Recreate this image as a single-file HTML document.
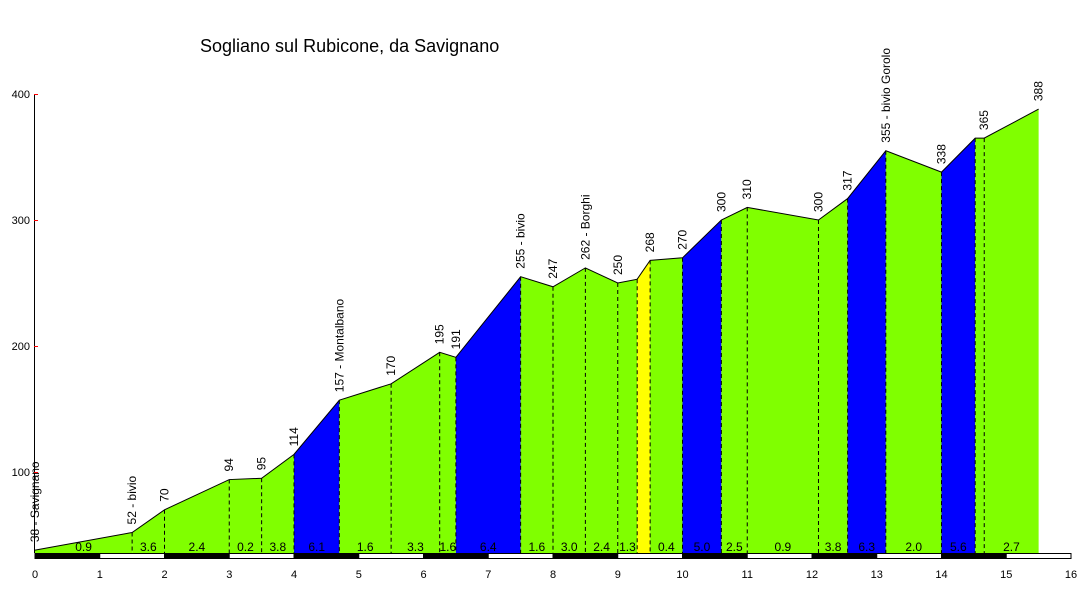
<!DOCTYPE html>
<html><head><meta charset="utf-8"><style>
html,body{margin:0;padding:0;background:#fff;}
svg{display:block;font-family:"Liberation Sans",Arial,sans-serif;}
</style></head><body>
<svg id="chart" width="1088" height="590" viewBox="0 0 1088 590" xmlns="http://www.w3.org/2000/svg">
<text x="200" y="52" font-size="18" fill="#000">Sogliano sul Rubicone, da Savignano</text>
<g id="plot"></g>
</svg>
<script>
const kms = [0,1.5,2.0,3.0,3.5,4.0,4.7,5.5,6.25,6.5,7.5,8.0,8.5,9.0,9.3,9.5,10.0,10.6,11.0,12.1,12.55,13.14,14.0,14.52,14.66,15.5];
const alts = [38,52,70,94,95,114,157,170,195,191,255,247,262,250,253,268,270,300,310,300,317,355,338,365,365,388];
const pointLabels = ["38 - Savignano","52 - bivio","70","94","95","114","157 - Montalbano","170","195","191","255 - bivio","247","262 - Borghi","250","","268","270","300","310","300","317","355 - bivio Gorolo","338","","365","388"];
const segColors = ["g","g","g","g","g","b","g","g","g","b","g","g","g","g","y","g","b","g","g","g","b","g","b","g","g"];
const gradeLabels = ["0.9","3.6","2.4","0.2","3.8","6.1","1.6","3.3","1.6","6.4","1.6","3.0","2.4","1.3","","0.4","5.0","2.5","0.9","3.8","6.3","2.0","5.6","","2.7"];
const yTicks = [100,200,300,400];
const xTicks = [0,1,2,3,4,5,6,7,8,9,10,11,12,13,14,15,16];

const X = km => 35 + km*64.75;
const Y = a => 472 - (a-100)*1.26;
const BASE = 553;
const colorMap = {g:"#80ff00", b:"#0000ff", y:"#ffff00"};
const NS = "http://www.w3.org/2000/svg";
const g = document.getElementById('plot');
function mk(tag, attrs){const e=document.createElementNS(NS,tag);for(const k in attrs)e.setAttribute(k,attrs[k]);g.appendChild(e);return e;}

// segments
for(let i=0;i<kms.length-1;i++){
  const x1=X(kms[i]),x2=X(kms[i+1]);
  const p=mk('polygon',{points:`${x1},${BASE} ${x1},${Y(alts[i])} ${x2},${Y(alts[i+1])} ${x2},${BASE}`,fill:colorMap[segColors[i]]});
  
  
  if(gradeLabels[i]){
    const t=mk('text',{x:(x1+x2)/2,y:551,'font-size':12,'text-anchor':'middle',fill:'#000'});
    t.textContent=gradeLabels[i];
    
    
  }
}
// dashed dividers
for(let i=1;i<kms.length-1;i++){
  const l=mk('line',{x1:X(kms[i]),x2:X(kms[i]),y1:Y(alts[i]),y2:BASE,stroke:'#000','stroke-width':1,'stroke-dasharray':'4,3'});
  
  
}
// profile line
const pl=mk('polyline',{points:kms.map((k,i)=>X(k)+','+Y(alts[i])).join(' '),fill:'none',stroke:'#000','stroke-width':1});


// point labels
for(let i=0;i<kms.length;i++){
  if(!pointLabels[i]) continue;
  const x=X(kms[i])+4, y=Y(alts[i])-8;
  const t=mk('text',{x:x,y:y,'font-size':12,fill:'#000',transform:`rotate(-90 ${x} ${y})`});
  t.textContent=pointLabels[i];
  
  
}
// km bar
for(let k=0;k<16;k++){
  const r=mk('rect',{x:X(k),y:BASE+0.5,width:64.75,height:5,fill:(k%2===0?'#000':'#fff'),stroke:'#000','stroke-width':1});
  
  
}
// y axis
const ya=mk('line',{x1:34.5,x2:34.5,y1:Y(400),y2:BASE,stroke:'#000','stroke-width':1});


for(const v of yTicks){
  const tk=mk('line',{x1:34,x2:38,y1:Y(v)+0.5,y2:Y(v)+0.5,stroke:'#ff0000','stroke-width':1});
  
  
  const t=mk('text',{x:30,y:Y(v)+4,'font-size':11,'text-anchor':'end',fill:'#000'});
  t.textContent=v;
  
  
}
for(const v of xTicks){
  const t=mk('text',{x:X(v),y:578,'font-size':11,'text-anchor':'middle',fill:'#000'});
  t.textContent=v;
  
  
}
</script>
</body></html>
